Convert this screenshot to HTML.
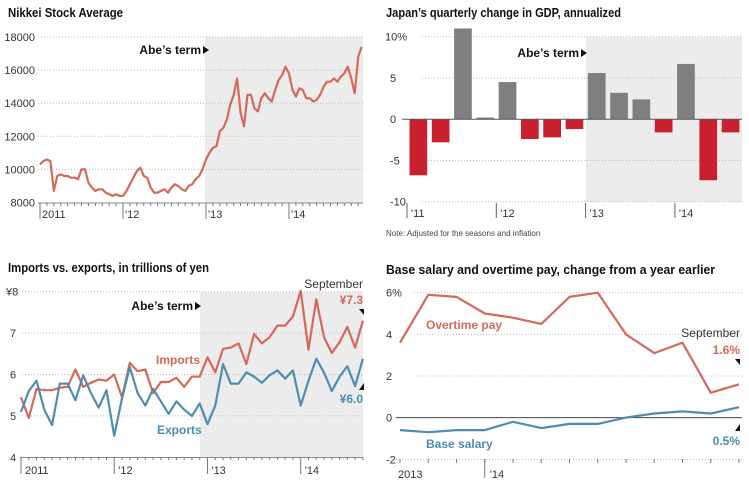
<!DOCTYPE html>
<html><head><meta charset="utf-8"><style>
body{margin:0;background:#fff;}
svg{display:block;font-family:"Liberation Sans",sans-serif;}
.t{font-weight:bold;font-size:13px;fill:#111;}
.tk{font-size:11px;fill:#333;}
.ab{font-weight:bold;font-size:12px;fill:#111;}
</style></head><body>
<svg id="c" width="749" height="499" viewBox="0 0 749 499"></svg>
<script>
// Nikkei (semi-monthly, Jan 2011 - Nov 2014)
const nikkeiValues=[10300,10500,10600,10500,8700,9600,9700,9600,9600,9500,9500,9400,10000,10000,9200,8900,8700,8800,8800,8600,8500,8400,8500,8400,
8400,8700,9100,9500,9900,10100,9600,9500,8900,8600,8600,8700,8800,8600,8900,9100,9000,8800,8700,9000,9100,9400,9600,10000,
10600,11000,11300,11400,12300,12500,13000,13900,14500,15500,13400,12600,14500,14500,13700,13500,14300,14600,14300,14100,14800,15400,15700,16200,
15800,14800,14400,14900,14800,14300,14300,14100,14200,14500,15000,15300,15300,15500,15300,15600,15800,16200,15500,14600,16800,17400];
const nikkeiTicks=[8000,10000,12000,14000,16000,18000];
const yearLabels1=["2011","'12","'13","'14"];
// GDP quarterly Q1 2011 - Q3 2014
const gdpValues=[-6.8,-2.8,11,0.2,4.5,-2.4,-2.2,-1.2,5.6,3.2,2.4,-1.6,6.7,-7.4,-1.6];
const gdpTicks=[-10,-5,0,5,10];
const gdpTickLabels=["-10","-5","0","5","10%"];
const yearLabels2=["'11","'12","'13","'14"];
// Imports/exports monthly Jan 2011 - Sep 2014
const importsValues=[5.45,4.95,5.65,5.62,5.62,5.68,5.7,6.12,5.7,5.8,5.88,5.85,6.0,5.45,6.28,6.08,6.12,5.55,5.82,5.82,5.92,5.7,5.95,5.95,6.42,6.05,6.62,6.65,6.75,6.25,6.98,6.75,6.9,7.18,7.18,7.4,8.02,6.6,7.82,6.9,6.52,6.78,7.15,6.65,7.3];
const exportsValues=[5.1,5.6,5.85,5.15,4.78,5.78,5.78,5.38,5.98,5.55,5.2,5.62,4.52,5.42,6.18,5.55,5.25,5.65,5.35,5.05,5.35,5.15,5.0,5.3,4.8,5.25,6.25,5.78,5.78,6.05,5.95,5.8,5.98,6.1,5.9,6.1,5.25,5.85,6.38,6.05,5.6,5.95,6.2,5.72,6.38];
const tradeTicks=[4,5,6,7,8];
const tradeTickLabels=["4","5","6","7","¥8"];
const yearLabels3=["2011","'12","'13","'14"];
// Wages
const overtimeValues=[3.6,5.9,5.8,5.0,4.8,4.5,5.8,6.0,4.0,3.1,3.6,1.2,1.6];
const baseValues=[-0.6,-0.7,-0.6,-0.6,-0.2,-0.5,-0.3,-0.3,0.0,0.2,0.3,0.2,0.5];
const wageTicks=[-2,0,2,4,6];
const wageTickLabels=["-2","0","2","4","6%"];

const svg=document.getElementById('c');const NS="http://www.w3.org/2000/svg";
function el(tag,attrs,parent,txt){const e=document.createElementNS(NS,tag);for(const k in attrs)e.setAttribute(k,attrs[k]);if(txt!=null)e.textContent=txt;(parent||svg).appendChild(e);return e;}
function lin(d0,d1,r0,r1){return v=>r0+(v-d0)*(r1-r0)/(d1-d0);}
function title(x,y,s,n,w){const t=el('text',{x:x,y:y,class:'t',textLength:w,lengthAdjust:'spacingAndGlyphs'},svg,s);}
function abe(x,y,n){const g=el('g',{});el('text',{x:x,y:y,class:'ab','text-anchor':'end'},g,"Abe’s term");el('path',{d:`M${x+2},${y-8}L${x+8},${y-4}L${x+2},${y}Z`,fill:'#111'},g);}
function grid(x0,x1,y,g){el('line',{x1:x0,x2:x1,y1:y,y2:y,stroke:'#bbb','stroke-dasharray':'1,2','stroke-width':1},g);}
function path(vals,fx,fy,color,n){const d=vals.map((v,i)=>(i?'L':'M')+fx(i).toFixed(1)+','+fy(v).toFixed(1)).join('');const p=el('path',{d:d,fill:'none',stroke:color,'stroke-width':2.2,'stroke-linejoin':'round'});}

// Panel 1
title(8,17,"Nikkei Stock Average","nikkei-title",115);
{const y=lin(8000,18000,202.5,37),x=i=>40+i*(83/24);
el('rect',{x:205,y:37,width:158,height:166,fill:'#ececec'});
const g=el('g',{});
nikkeiTicks.forEach(t=>{if(t>8000)grid(38,363,y(t),g);el('text',{x:35,y:y(t)+4,class:'tk','text-anchor':'end'},g,t);});
el('line',{x1:38,x2:363,y1:203,y2:203,stroke:'#888'});
for(let m=0;m<47;m++){const xx=40+m*83/12;el('line',{x1:xx,x2:xx,y1:203,y2:m%12==0?219:206,stroke:'#777'});}
yearLabels1.forEach((s,k)=>el('text',{x:42+k*83,y:218,class:'tk'},svg,s));
abe(201,54,'nikkei-abe-label');
path(nikkeiValues,x,y,'#d5695a','nikkei-line');}

// Panel 2
title(386,17,"Japan’s quarterly change in GDP, annualized","gdp-title",235);
{const y=lin(-10,10,201.7,36.7);
el('rect',{x:586,y:37,width:156,height:165,fill:'#ececec'});
const g=el('g',{});
gdpTicks.forEach((t,k)=>{if(t!=0)grid(422,742,y(t),g);el('text',{x:k==4?385:390,y:y(t)+4,class:'tk'},g,gdpTickLabels[k]);});
gdpValues.forEach((v,i)=>{const r=el('rect',{x:409.5+i*22.3,y:Math.min(y(v),y(0)),width:17.7,height:Math.abs(y(v)-y(0)),fill:v>=0?'#7f7f80':'#c9202f'});});
el('line',{x1:402,x2:742,y1:y(0),y2:y(0),stroke:'#555'});
yearLabels2.forEach((s,k)=>{const xx=407+k*89.3;el('line',{x1:xx,x2:xx,y1:203,y2:218,stroke:'#666'});el('text',{x:xx+4,y:217,class:'tk'},svg,s);});
abe(579,57,'gdp-abe-label');
const n=el('text',{x:386,y:236,style:'font-size:8px;fill:#444'},svg,"Note: Adjusted for the seasons and inflation");}

// Panel 3
title(8,272,"Imports vs. exports, in trillions of yen","trade-title",201);
{const y=lin(4,8,457.3,291.7),x=i=>21+i*7.77;
el('rect',{x:200,y:292,width:163,height:165,fill:'#ececec'});
const g=el('g',{});
tradeTicks.forEach((t,k)=>{if(t>4)grid(22,363,y(t),g);el('text',{x:k==4?6:10,y:y(t)+4,class:'tk'},g,tradeTickLabels[k]);});
el('line',{x1:20,x2:363,y1:457.5,y2:457.5,stroke:'#888'});
for(let m=0;m<45;m++){const xx=x(m);el('line',{x1:xx,x2:xx,y1:457,y2:m%12==0?474:460,stroke:'#777'});}
yearLabels3.forEach((s,k)=>el('text',{x:x(k*12)+4,y:474,class:'tk'},svg,s));
abe(193,310,'trade-abe-label');
path(importsValues,x,y,'#d5695a','imports-line');
path(exportsValues,x,y,'#4f8db0','exports-line');
el('text',{x:156,y:364,style:'font-size:12px;font-weight:bold;fill:#d5695a'},svg,"Imports");
el('text',{x:157,y:434,style:'font-size:12px;font-weight:bold;fill:#4f8db0'},svg,"Exports");
el('text',{x:363,y:288,class:'tk','text-anchor':'end',style:'font-size:12px'},svg,"September");
el('text',{x:363,y:304,'text-anchor':'end',style:'font-size:12px;font-weight:bold;fill:#d5695a'},svg,"¥7.3");
el('text',{x:363,y:403,'text-anchor':'end',style:'font-size:12px;font-weight:bold;fill:#4f8db0'},svg,"¥6.0");
el('path',{d:'M359,309L364,309L364,315Z',fill:'#111'});el('path',{d:'M364,383L364,390L359,390Z',fill:'#111'});}

// Panel 4
title(386,274,"Base salary and overtime pay, change from a year earlier","wage-title",329);
{const y=lin(-2,6,459.3,292.7),x=i=>400+i*28.25;
const g=el('g',{});
wageTicks.forEach((t,k)=>{if(t>0)grid(414,742,y(t),g);el('text',{x:386,y:y(t)+4,class:'tk'},g,wageTickLabels[k]);});
el('line',{x1:396,x2:742,y1:y(0),y2:y(0),stroke:'#444'});
el('line',{x1:396,x2:742,y1:459.5,y2:459.5,stroke:'#bbb','stroke-dasharray':'1,2'});
for(let m=0;m<13;m++){el('line',{x1:x(m),x2:x(m),y1:459,y2:463,stroke:'#777'});}
el('line',{x1:x(3),x2:x(3),y1:459,y2:478,stroke:'#777'});
el('text',{x:398,y:478,class:'tk'},svg,"2013");el('text',{x:x(3)+5,y:478,class:'tk'},svg,"'14");
path(overtimeValues,x,y,'#d5695a','overtime-line');
path(baseValues,x,y,'#4f8db0','base-salary-line');
el('text',{x:426,y:329,style:'font-size:12px;font-weight:bold;fill:#d5695a'},svg,"Overtime pay");
el('text',{x:426,y:448,style:'font-size:12px;font-weight:bold;fill:#4f8db0'},svg,"Base salary");
el('text',{x:740,y:337,class:'tk','text-anchor':'end',style:'font-size:12px'},svg,"September");
el('text',{x:740,y:354,'text-anchor':'end',style:'font-size:12px;font-weight:bold;fill:#d5695a'},svg,"1.6%");
el('text',{x:740,y:445,'text-anchor':'end',style:'font-size:12px;font-weight:bold;fill:#4f8db0'},svg,"0.5%");
el('path',{d:'M735,359L740,359L740,365Z',fill:'#111'});el('path',{d:'M740,424L740,431L735,431Z',fill:'#111'});}
</script>
</body></html>
